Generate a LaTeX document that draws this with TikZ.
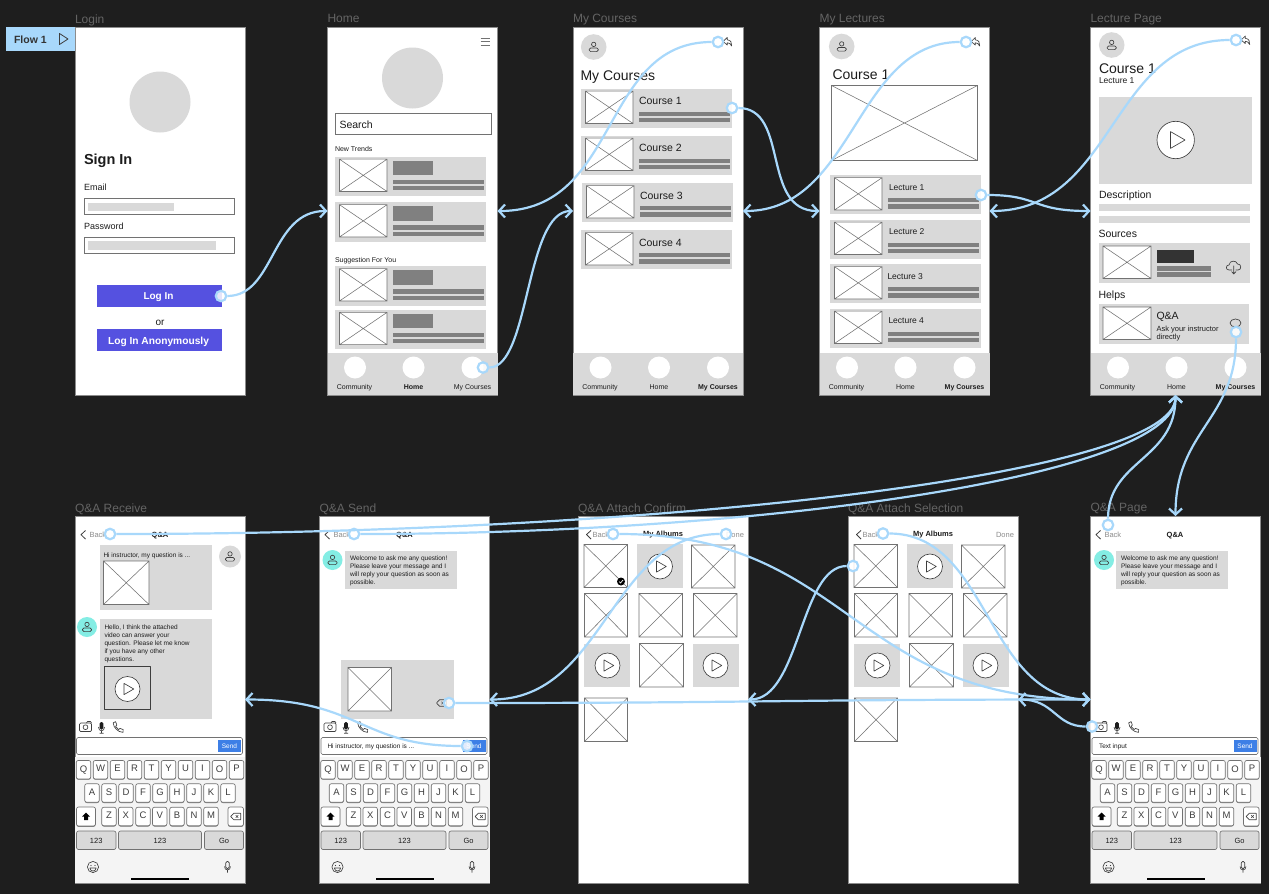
\documentclass[tikz,border=0pt]{standalone}
\usepackage{fontspec}
\setmainfont{Liberation Sans}
\usetikzlibrary{arrows.meta}
\definecolor{wbg}{HTML}{1E1E1E}
\definecolor{wlink}{HTML}{A8D8FB}
\definecolor{wlbl}{HTML}{646464}
\definecolor{wgray}{HTML}{D9D9D9}
\definecolor{wbar}{HTML}{808080}
\definecolor{wink}{HTML}{1C1C1C}
\definecolor{wline}{HTML}{727272}
\definecolor{wteal}{HTML}{84EDE4}
\definecolor{wpur}{HTML}{5551E0}
\definecolor{wblue}{HTML}{3D7FE6}
\definecolor{wkbd}{HTML}{F4F4F4}
\definecolor{wmut}{HTML}{8C8C8C}
\newcounter{wfn}
\tikzset{
  wtx/.style={inner sep=0pt,outer sep=0pt,text=wink,anchor=west},
  wfr/.style={rectangle,draw=wmut,line width=.5pt,fill=white,inner sep=0pt,outer sep=0pt,minimum width=170pt},
  wconn/.style={draw=wlink,line width=2.2pt,-{Straight Barb[length=6pt,width=13pt,line width=2.2pt]}},
  wdot/.style={circle,draw=wlink,line width=2.2pt,fill=white,fill opacity=.85,inner sep=0pt,minimum size=10.5pt},
  wic/.style={draw=wink!85,line width=.65pt,line join=round},
  wkeyb/.style={rectangle,rounded corners=2pt,draw=wline,line width=.65pt,inner sep=0pt,minimum height=18.5pt,text=wink!85},
  wph/.style={draw=wline,line width=.55pt,fill=white}
}
\newcommand{\wtxt}[5][]{\stepcounter{wfn}\node[wtx,font=\fontsize{#4}{#4}\selectfont,#1] (t\thewfn) at ({#2},{#3+.16*#4}) {\vphantom{Ag}#5};}
\newcommand{\wctxt}[5][]{\wtxt[anchor=center,#1]{#2}{#3}{#4}{#5}}
\newcommand{\wframe}[5]{\node[wfr,minimum height=#4pt] (#1) at ({#2+85},{#3+#4/2}) {};\wtxt[text=wlbl]{#2}{#3-9}{12}{#5}}
\newcommand{\wbox}[5]{\fill[#5] ({#1},{#2}) rectangle ({#3},{#4});}
\newcommand{\wpl}[4]{\draw[wph] ({#1},{#2}) rectangle ({#3},{#4}) ({#1},{#2}) -- ({#3},{#4}) ({#1},{#4}) -- ({#3},{#2});}
\newcommand{\wplay}[3]{\draw[wic,fill=white] ({#1},{#2}) circle[radius=#3];\draw[wic] ({#1-.28*#3},{#2-.45*#3}) -- ({#1+.5*#3},{#2}) -- ({#1-.28*#3},{#2+.45*#3}) -- cycle;}
\newcommand{\wperson}[2]{\draw[wic] ({#1},{#2-2.6}) circle[radius=2.2];\draw[wic,rounded corners=1.5pt] ({#1-4.6},{#2+4.6}) rectangle ({#1+4.6},{#2+1});}
\newcommand{\wava}[4]{\fill[#4] ({#1},{#2}) circle[radius=#3];\wperson{#1}{#2}}
\newcommand{\wreply}[2]{\draw[wic] ({#1-4.5},{#2-.5}) -- ({#1-.5},{#2-4.5}) -- ({#1-.5},{#2-2.2}) .. controls ({#1+3},{#2-2}) and ({#1+4.5},{#2+1}) .. ({#1+4},{#2+4}) .. controls ({#1+3},{#2+1.5}) and ({#1+1},{#2+.8}) .. ({#1-.5},{#2+.8}) -- ({#1-.5},{#2+3}) -- cycle;}
\newcommand{\wcard}[3]{% x, y, dark-block flag ignored
  \wbox{#1}{#2}{#1+151}{#2+39.5}{wgray}\wpl{#1+4.5}{#2+2.7}{#1+52}{#2+35}
  \wbox{#1+58}{#2+4}{#1+97.5}{#2+18.5}{wbar}\wbox{#1+58}{#2+23}{#1+148.5}{#2+27.5}{wbar}\wbox{#1+58}{#2+29.5}{#1+148.5}{#2+33.5}{wbar}}
\newcommand{\wtcard}[5]{% x y textsize text textxoffset (text at y+11..13)
  \wbox{#1}{#2}{#1+151}{#2+39}{wgray}\wpl{#1+4.5}{#2+2.7}{#1+52}{#2+35}
  \wtxt{#1+#5}{#2+12}{#3}{#4}
  \wbox{#1+58}{#2+23}{#1+148.5}{#2+27.3}{wbar}\wbox{#1+58}{#2+29.3}{#1+148.5}{#2+33.5}{wbar}}
\newcommand{\wtabs}[4]{% frame x, three labels with font switches
  \wbox{#1}{353}{#1+170}{395}{wgray}
  \foreach \wo in {27.5,86,145}{\fill[white] ({#1+\wo},367.5) circle[radius=11];}
  \wctxt{#1+27}{387}{7}{#2}\wctxt{#1+86}{387}{7}{#3}\wctxt{#1+145}{387}{7}{#4}}
\newcommand{\wkey}[4][white]{\fill[wline,rounded corners=2pt] ({#2-7.2},{#3-8.4}) rectangle ({#2+7.2},{#3+10});\stepcounter{wfn}\node[wkeyb,fill=#1,minimum width=14.5pt,font=\fontsize{9.5}{9.5}\selectfont] (k\thewfn) at ({#2},{#3}) {\raisebox{-1pt}{\vphantom{Ag}#4}};}
\newcommand{\wwide}[4]{\stepcounter{wfn}\draw[wline,line width=.65pt,fill=wgray,rounded corners=2pt] ({#1},831) rectangle ({#2},849.5);\wctxt{(#1+#2)/2}{840}{7.5}{#3}}
\newcommand{\wdel}[2]{\draw[wic] ({#1-5},{#2}) -- ({#1-2},{#2-3.2}) -- ({#1+5},{#2-3.2}) -- ({#1+5},{#2+3.2}) -- ({#1-2},{#2+3.2}) -- cycle;\draw[wic,line width=.5pt] ({#1},{#2-1.3}) -- ({#1+2.6},{#2+1.3}) ({#1},{#2+1.3}) -- ({#1+2.6},{#2-1.3});}
\newcommand{\wkb}[1]{%
  \wbox{#1}{757}{#1+170}{883}{wkbd}
  \foreach \wl/\wo in {Q/8.5,W/25.5,E/42.5,R/59.5,T/76.5,Y/93.5,U/110.5,I/127.5,O/144.5,P/161.5}{\wkey{#1+\wo}{769.7}{\wl}}
  \foreach \wl/\wo in {A/17,S/34,D/51,F/68,G/85,H/102,J/119,K/136,L/153}{\wkey{#1+\wo}{793}{\wl}}
  \foreach \wl/\wo in {Z/34,X/50.7,C/68,V/84.7,B/102,N/119,M/136}{\wkey{#1+\wo}{816.5}{\wl}}
  \fill[wline,rounded corners=2pt] ({#1+1.5},807.5) rectangle ({#1+20.5},826.8);
  \draw[wline,line width=.65pt,fill=white,rounded corners=2pt] ({#1+1.5},807) rectangle ({#1+20.5},826);
  \fill[black] ({#1+11},812.5) -- ({#1+15},816.5) -- ({#1+13},816.5) -- ({#1+13},820) -- ({#1+9},820) -- ({#1+9},816.5) -- ({#1+7},816.5) -- cycle;
  \fill[wline,rounded corners=2pt] ({#1+153},807.5) rectangle ({#1+168.5},826.8);
  \draw[wline,line width=.65pt,fill=white,rounded corners=2pt] ({#1+153},807) rectangle ({#1+168.5},826);
  \wdel{#1+160.7}{816.5}
  \wwide{#1+1.5}{#1+41}{123}{}\wwide{#1+43.5}{#1+126.5}{123}{}\wwide{#1+129.5}{#1+168.5}{Go}{}
  \draw[wic] ({#1+18},867) circle[radius=5.6];
  \fill[wink!85] ({#1+16},865.5) circle[radius=.7] ({#1+20},865.5) circle[radius=.7];
  \draw[wic] ({#1+14.8},868) .. controls ({#1+15.5},872) and ({#1+20.5},872) .. ({#1+21.2},868) -- cycle;
  \draw[wic,rounded corners=1.3pt] ({#1+150.8},861.5) rectangle ({#1+154.2},868.5);
  \draw[wic] ({#1+149.5},866.5) .. controls ({#1+149.5},871) and ({#1+155.5},871) .. ({#1+155.5},866.5) ({#1+152.5},870) -- ({#1+152.5},872.5);
  \fill[black] ({#1+56},877.5) rectangle ({#1+114},879.5);}
\newcommand{\wcam}[2]{\draw[wic,rounded corners=1.2pt] ({#1-6},{#2-4}) rectangle ({#1+6},{#2+4.5});\draw[wic] ({#1},{#2+.2}) circle[radius=2.4];\draw[wic] ({#1+1},{#2-4}) -- ({#1+2},{#2-5.5}) -- ({#1+5},{#2-5.5}) -- ({#1+6},{#2-4});}
\newcommand{\wmic}[2]{\fill[wink,rounded corners=1.5pt] ({#1-1.9},{#2-5.5}) rectangle ({#1+1.9},{#2+2});\draw[wic] ({#1-3},{#2-.5}) .. controls ({#1-3},{#2+4.5}) and ({#1+3},{#2+4.5}) .. ({#1+3},{#2-.5}) ({#1},{#2+3.5}) -- ({#1},{#2+5.8}) ({#1-2},{#2+5.8}) -- ({#1+2},{#2+5.8});}
\newcommand{\wphone}[2]{\draw[wic] ({#1-4.8},{#2-4.2}) .. controls ({#1-4.5},{#2+1}) and ({#1},{#2+5}) .. ({#1+5},{#2+5.4}) -- ({#1+5.2},{#2+2.6}) -- ({#1+2},{#2+1.4}) -- ({#1+.6},{#2+2.6}) .. controls ({#1-.8},{#2+1.8}) and ({#1-1.8},{#2+.8}) .. ({#1-2.4},{#2-.6}) -- ({#1-1.2},{#2-2}) -- ({#1-2.4},{#2-5.4}) -- cycle;}
\newcommand{\wtools}[1]{\wcam{#1+10.5}{727}\wmic{#1+26.5}{727.5}\wphone{#1+43}{727}}
\newcommand{\winput}[3]{%
  \draw[wline,line width=.65pt,fill=white,rounded corners=1.5pt] ({#1+1.5},737.5) rectangle ({#1+167.5},754.5);
  \wbox{#1+143}{740}{#1+166}{752}{wblue}\wctxt[text=white]{#1+154.5}{746}{6.5}{Send}
  \wtxt{#1+#3}{745.8}{6.5}{#2}}
\newcommand{\wchat}[3]{% frame x, centre of Q&A, back text x
  \draw[wic,line width=.8pt] ({#3-4},530.5) -- ({#3-8.5},534.7) -- ({#3-4},539);
  \wtxt[text=wmut]{#3}{534.8}{7.5}{Back}\wctxt[font=\fontsize{7.5}{7.5}\selectfont\bfseries]{#2}{534.3}{7.5}{Q\&A}}
\newcommand{\wwelcome}[2]{%
  \wava{#1}{560}{10}{wteal}\wbox{#2}{551}{#2+112}{588.5}{wgray}
  \wtxt{#2+5}{558}{6.5}{Welcome to ask me any question!}\wtxt{#2+5}{566}{6.5}{Please leave your message and I}\wtxt{#2+5}{574}{6.5}{will reply your question as soon as}\wtxt{#2+5}{581.7}{6.5}{possible.}}
\newcommand{\walb}[1]{%
  \wpl{#1+584}{544.5}{#1+627.5}{587.5}
  \wbox{#1+636.5}{544}{#1+682.5}{587.5}{wgray}\wplay{#1+660}{566.5}{12.5}
  \wpl{#1+691.5}{545}{#1+735}{588}
  \wpl{#1+584.5}{593.5}{#1+627.5}{637}\wpl{#1+639}{593.5}{#1+682.5}{637}\wpl{#1+693.5}{593.5}{#1+737}{637}
  \wbox{#1+584}{643.5}{#1+630}{687}{wgray}\wplay{#1+607.5}{665.5}{12.5}
  \wpl{#1+639.5}{643.5}{#1+683.5}{687}
  \wbox{#1+692.5}{643.5}{#1+738.5}{687}{wgray}\wplay{#1+715.5}{665.5}{12.5}
  \wpl{#1+584.5}{698}{#1+627.5}{741.5}
  \draw[wic,line width=.8pt] ({#1+591},530.5) -- ({#1+586.5},534.5) -- ({#1+591},539);
  \wtxt[text=wmut]{#1+592.5}{534.3}{7.5}{Back}
  \wctxt[font=\fontsize{7.5}{7.5}\selectfont\bfseries]{#1+663}{533.8}{7.5}{My Albums}
  \wtxt[text=wmut,anchor=east]{#1+744}{534.3}{7.5}{Done}}
\begin{document}
\begin{tikzpicture}[x=1pt,y=-1pt]
\useasboundingbox (0,0) rectangle (1269,894);
\fill[wbg] (0,0) rectangle (1269,894);
% frames
\wframe{login}{75}{27}{368}{Login}
\wframe{home}{327.5}{27}{368}{Home}
\wframe{courses}{573}{27}{368}{My Courses}
\wframe{lectures}{819.5}{27}{368}{My Lectures}
\wframe{lecture}{1090.5}{27}{368}{Lecture Page}
\wframe{receive}{75}{516}{367}{Q\&A Receive}
\wframe{send}{319.5}{516}{367}{Q\&A Send}
\wframe{confirm}{578}{516}{367}{Q\&A Attach Confirm}
\wframe{select}{848}{516}{367}{Q\&A Attach Selection}
\wframe{page}{1090.5}{516}{367}{Q\&A Page}
% flow tag
\fill[wlink] (6,27) rectangle (75,51);
\wtxt[font=\fontsize{10.5}{10.5}\selectfont\bfseries,text=wink!90]{14}{39}{10.5}{Flow 1}
\draw[wic,line width=.8pt] (59.5,33.5) -- (68,39) -- (59.5,44.5) -- cycle;
% login
\fill[wgray] (160,102) circle[radius=30.5];
\wtxt[font=\fontsize{14.5}{14.5}\selectfont\bfseries]{84}{158.5}{14.5}{Sign In}
\wtxt{84}{187}{9}{Email}
\draw[wline,line width=.65pt] (84,198) rectangle (234,214);
\wbox{88}{203}{174}{211}{wgray}
\wtxt{84}{226}{9}{Password}
\draw[wline,line width=.65pt] (84,237) rectangle (234,253);
\wbox{88}{241}{216}{250}{wgray}
\wbox{97}{285}{222}{307}{wpur}
\wctxt[text=white,font=\fontsize{10}{10}\selectfont\bfseries]{158.5}{296}{10}{Log In}
\wctxt{160}{321}{10}{or}
\wbox{97}{329}{222}{351}{wpur}
\wctxt[text=white,font=\fontsize{10.2}{10.2}\selectfont\bfseries]{158.5}{340.5}{10}{Log In Anonymously}
% home
\draw[wic,line width=.8pt,draw=wline] (480.5,38.4) -- (489.5,38.4) (480.5,41.7) -- (489.5,41.7) (480.5,45) -- (489.5,45);
\fill[wgray] (412.5,78) circle[radius=30.5];
\draw[wline,line width=.65pt] (335,113.5) rectangle (491.5,134.5);
\wtxt{339.5}{124.3}{10.5}{Search}
\wtxt{335}{149}{7}{New Trends}
\wcard{335}{156.5}{}
\wcard{335}{202}{}
\wtxt{335}{259.5}{7}{Suggestion For You}
\wcard{335}{266}{}
\wcard{335}{309.7}{}
\wtabs{327.5}{Community}{\textbf{Home}}{My Courses}
% my courses
\wava{593.7}{47}{12.8}{wgray}
\wreply{727.7}{42}
\wtxt{580.5}{74.5}{14}{My Courses}
\wtcard{581}{88.5}{10.5}{Course 1}{58}
\wtcard{581}{135.5}{10.5}{Course 2}{58}
\wtcard{582}{183}{10.5}{Course 3}{58}
\wtcard{581}{230}{10.5}{Course 4}{58}
\wtabs{573}{Community}{Home}{\textbf{My Courses}}
% my lectures
\wava{841.7}{46.5}{12.8}{wgray}
\wreply{975.7}{42}
\wtxt{832.5}{74}{14}{Course 1}
\wpl{831.5}{85.5}{977.5}{160.5}
\wtcard{830}{175}{8.5}{Lecture 1}{59}
\wtcard{830}{219.5}{8.5}{Lecture 2}{59}
\wtcard{830}{264}{8.5}{Lecture 3}{57.5}
\wtcard{830}{308.5}{8.5}{Lecture 4}{58.5}
\wtabs{819.5}{Community}{Home}{\textbf{My Courses}}
% lecture page
\wava{1111.7}{45}{12.8}{wgray}
\wreply{1245.7}{40.5}
\wtxt{1099}{68}{14}{Course 1}
\wtxt{1099}{80.5}{8.5}{Lecture 1}
\wbox{1099}{96.5}{1252}{183.5}{wgray}
\wplay{1175.7}{140}{18.7}
\wtxt{1099}{194}{10.5}{Description}
\wbox{1099}{204}{1249.5}{211}{wgray}
\wbox{1099}{216}{1249.5}{223}{wgray}
\wtxt{1098.5}{233}{10.5}{Sources}
\wbox{1098.5}{243}{1249.5}{282.5}{wgray}
\wpl{1103}{246}{1151}{278.5}
\wbox{1156.5}{249.5}{1194}{262.5}{wink!90}
\wbox{1156.5}{266}{1210.5}{271}{wbar}
\wbox{1156.5}{272}{1210.5}{277}{wbar}
\draw[wic] (1232,270) -- (1229,270) .. controls (1225,270) and (1226,264.5) .. (1229,265) .. controls (1229.5,260) and (1236.5,260) .. (1237.5,264) .. controls (1241.5,263.5) and (1242,270) .. (1238,270) -- (1235.5,270) (1233.8,265.5) -- (1233.8,274) (1231.5,271.5) -- (1233.8,274) -- (1236,271.5);
\wtxt{1098.5}{294}{10.5}{Helps}
\wbox{1098.5}{304}{1249}{343.5}{wgray}
\wpl{1103}{307}{1151}{339.5}
\wtxt{1156.5}{315.5}{10.5}{Q\&A}
\wtxt{1156.5}{328}{7.5}{Ask your instructor}
\wtxt{1156.5}{336}{7.5}{directly}
\draw[wic] (1235.5,323) ellipse[x radius=5.5,y radius=4];
\wtabs{1090.5}{Community}{Home}{\textbf{My Courses}}
% q&a receive
\wchat{75}{160}{89.5}
\wbox{100}{545}{211.5}{610}{wgray}
\wtxt{103.5}{555}{6.5}{Hi instructor, my question is ...}
\wpl{103.5}{561}{149}{604.5}
\wava{230}{556.5}{11}{wgray}
\wbox{100}{619}{211.5}{719}{wgray}
\wava{87}{627}{10}{wteal}
\wtxt{104.5}{627}{6.5}{Hello, I think the attached}
\wtxt{104.5}{635}{6.5}{video can answer your}
\wtxt{104.5}{643}{6.5}{question. Please let me know}
\wtxt{104.5}{650.7}{6.5}{if you have any other}
\wtxt{104.5}{658.5}{6.5}{questions.}
\draw[wic,fill=wgray] (104.5,666.5) rectangle (150.5,709.5);
\wplay{127.5}{689}{12.5}
\wtools{75}
\winput{75}{}{7}
\wkb{75}
% q&a send
\wchat{319.5}{404.5}{333.5}
\wwelcome{332.5}{345}
\wbox{340.5}{660}{454}{719}{wgray}
\wpl{348}{667.5}{391.5}{711}
\wdel{441.5}{703}
\wtools{319.5}
\winput{319.5}{Hi instructor, my question is ...}{8}
\wkb{319.5}
% albums
\walb{0}
\fill[black] (621,581.5) circle[radius=4];
\draw[white,line width=.7pt] (619,581.5) -- (620.5,583) -- (623,580);
\walb{270}
% q&a page
\wchat{1090.5}{1175}{1104.5}
\wwelcome{1104}{1116}
\wtools{1090.5}
\winput{1090.5}{Text input}{8.5}
\wkb{1090.5}
% hotspots
\node[wdot] (dlogin) at (221,296) {};
\node[wdot] (dhome) at (483,367.5) {};
\node[wdot] (dcback) at (718,42) {};
\node[wdot] (dcourse) at (732,108) {};
\node[wdot] (dlback) at (966,42) {};
\node[wdot] (dlect) at (981,195) {};
\node[wdot] (dpback) at (1236,40) {};
\node[wdot] (dhelp) at (1236,332) {};
\node[wdot] (dqback) at (1108,525) {};
\node[wdot] (drback) at (110,534) {};
\node[wdot] (dsback) at (354,534) {};
\node[wdot] (dcfback) at (613,534) {};
\node[wdot] (dcfdone) at (726,534) {};
\node[wdot] (dslback) at (883,533.5) {};
\node[wdot] (dslimg) at (853,566) {};
\node[wdot] (dcam) at (1092,726.5) {};
\node[wdot] (dsend) at (467,746) {};
\node[wdot] (ddel) at (449,703) {};
% connectors
\draw[wconn] (dlogin) .. controls +(54,0) and +(-57,0) .. (home.west);
\draw[wconn] (dhome) .. controls +(47,0) and +(-48,0) .. (courses.west);
\draw[wconn] (dcback) .. controls +(-118,0) and +(123,0) .. (home.east);
\draw[wconn] (dcourse) .. controls +(58,0) and +(-59,0) .. (lectures.west);
\draw[wconn] (dlback) .. controls +(-111,0) and +(112,0) .. (courses.east);
\draw[wconn] (dlect) .. controls +(59,0) and +(-60,0) .. (lecture.west);
\draw[wconn] (dpback) .. controls +(-126,0) and +(126,0) .. (lectures.east);
\draw[wconn] (dhelp) .. controls +(0,88) and +(0,-86) .. (page.north);
\draw[wconn] (dqback) .. controls +(0,-65) and +(0,65) .. (lecture.south);
\draw[wconn] (drback) .. controls +(530,0) and +(0,82) .. (lecture.south);
\draw[wconn] (dsback) .. controls +(406,0) and +(0,81) .. (lecture.south);
\draw[wconn] (dcfback) .. controls +(237,0) and +(-240,0) .. (page.west);
\draw[wconn] (dslback) .. controls +(107,0) and +(-105,0) .. (page.west);
\draw[wconn] (ddel) .. controls +(321,0) and +(-320,0) .. (page.west);
\draw[wconn] (dcfdone) .. controls +(-116,0) and +(116,0) .. (send.east);
\draw[wconn] (dslimg) .. controls +(-53,0) and +(52,0) .. (confirm.east);
\draw[wconn] (dcam) .. controls +(-37,0) and +(37,0) .. (select.east);
\draw[wconn] (dsend) .. controls +(-107,0) and +(115,0) .. (receive.east);
\end{tikzpicture}
\end{document}
